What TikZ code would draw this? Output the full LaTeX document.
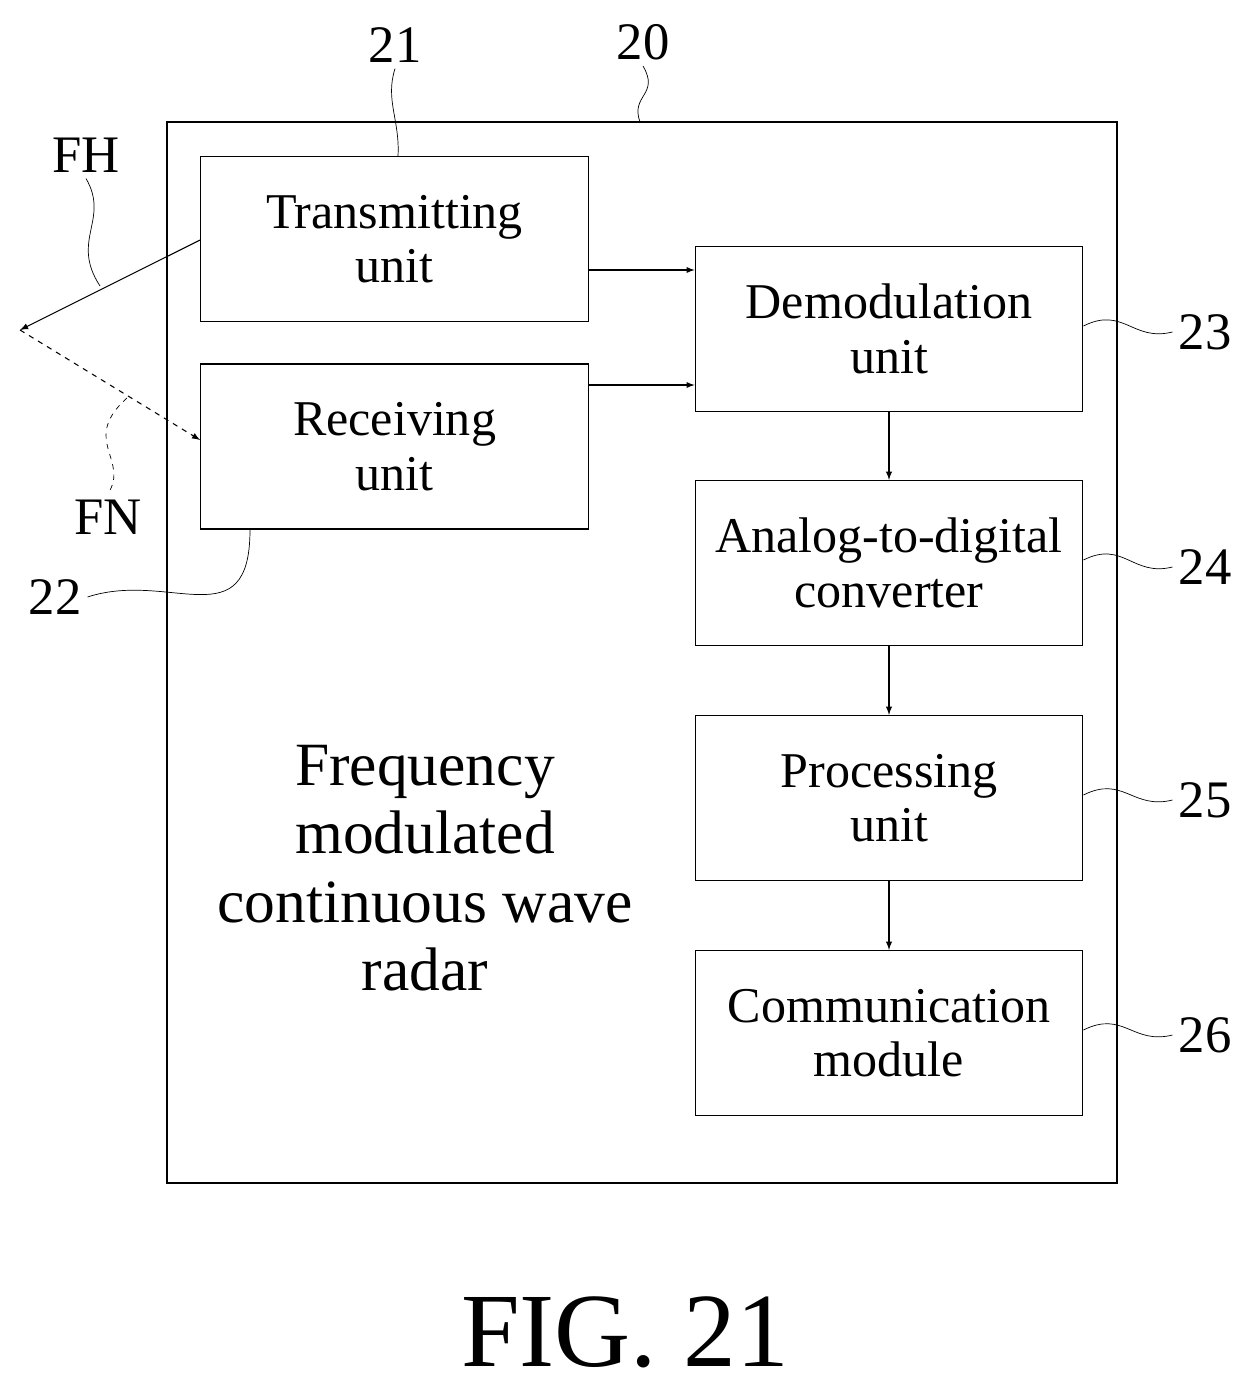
\documentclass[tikz,border=0pt]{standalone}
\usepackage{fontspec}
\setmainfont{Liberation Serif}
\usetikzlibrary{arrows, positioning}
\begin{document}
\begin{tikzpicture}[x=0.02cm,y=-0.02cm,
  unit/.style={draw,thick,minimum width=7.75cm,minimum height=3.3cm,align=center,font=\fontsize{28.5}{31}\selectfont,inner sep=0pt},
  num/.style={font=\fontsize{30}{32}\selectfont},
  lead/.style={thin}]
\useasboundingbox (0,0) rectangle (1255,1395);
\draw[thick] (167,122) rectangle (1117,1183);
\node[unit] (tx) at (394.5,239) {Transmitting\\unit};
\node[unit] (rx) at (394.5,446.5) {Receiving\\unit};
\node[unit] (dem) at (889,329) {Demodulation\\unit};
\node[unit] (adc) at (889,563) {Analog-to-digital\\converter};
\node[unit] (proc) at (889,798) {Processing\\unit};
\node[unit] (com) at (889,1033) {Communication\\module};
\node[align=center,font=\fontsize{35}{39}\selectfont] (fmcw) at (425,868) {Frequency\\modulated\\continuous wave\\radar};
\node[font=\fontsize{60}{66}\selectfont] (fig) at (625,1332) {FIG. 21};
% arrows
\draw[-latex,semithick] (tx.east |- 0,270) -- (dem.west |- 0,270);
\draw[-latex,semithick] (rx.east |- 0,385) -- (dem.west |- 0,385);
\draw[-latex,semithick] (dem) -- (adc);
\draw[-latex,semithick] (adc) -- (proc);
\draw[-latex,semithick] (proc) -- (com);
% signals
\coordinate (tip) at (20,330);
\draw[-latex,semithick] (tx.west |- 0,240) -- (tip);
\draw[-latex,semithick,dashed] (tip) -- (rx.west |- 0,440);
% labels
\node[num] (lFH) at (86,155) {FH};
\node[num] (lFN) at (108,517) {FN};
\node[num] (l20) at (643,42) {20};
\node[num] (l21) at (395,45) {21};
\node[num] (l22) at (55,597) {22};
\node[num] (l23) at (1205,332) {23};
\node[num] (l24) at (1205,567) {24};
\node[num] (l25) at (1205,800) {25};
\node[num] (l26) at (1205,1035) {26};
\draw[lead] (100,286) .. controls (70,240) and (110,220) .. (lFH.south);
\draw[lead,dashed] (127,398) .. controls (80,440) and (130,460) .. (lFN.north);
\draw[lead] (640,122) .. controls (630,95) and (660,95) .. (l20.south);
\draw[lead] (398,156) .. controls (400,120) and (385,100) .. (l21.south);
\draw[lead] (rx.south -| 250,0) .. controls (250,640) and (170,570) .. (l22.east);
\foreach \n/\m in {dem/23,adc/24,proc/25,com/26}
  \draw[lead] (\n.east) ++(0,-3) .. controls +(40,-20) and +(-40,10) .. (l\m.west);
\end{tikzpicture}
\end{document}
